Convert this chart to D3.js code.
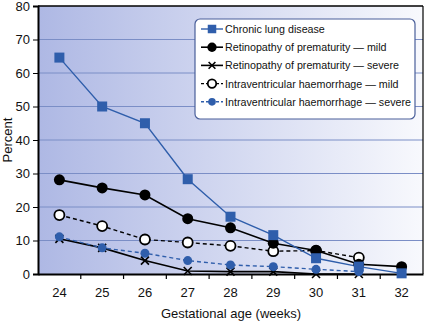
<!DOCTYPE html>
<html><head><meta charset="utf-8">
<script src="https://cdn.jsdelivr.net/npm/d3@7"></script>
<style>body{margin:0;background:#fff}svg{display:block;font-family:"Liberation Sans",Arial,sans-serif}</style>
</head><body><svg id="c" width="425" height="323"></svg>
<script>
const weeks = ["24","25","26","27","28","29","30","31","32"];
const yTicks = [0,10,20,30,40,50,60,70,80];
const chronicLung = [64.6,50,45,28.3,17.1,11.6,4.7,2.2,0.2];
const ropMild = [28.1,25.7,23.6,16.5,13.8,9.2,7.0,2.9,2.2];
const ropSevere = [10.5,7.8,4.0,0.9,0.7,0.7,0,0,null];
const ivhMild = [17.6,14.3,10.3,9.4,8.4,6.8,7.0,4.9,null];
const ivhSevere = [11.1,7.8,6.2,4.0,2.7,2.2,1.4,0.7,null];
const seriesNames = ["Chronic lung disease","Retinopathy of prematurity \u2014 mild","Retinopathy of prematurity \u2014 severe","Intraventricular haemorrhage \u2014 mild","Intraventricular haemorrhage \u2014 severe"];

const blue = "#2f5eab";
const series = [
  {name:seriesNames[0], values:chronicLung, color:blue, dash:null, marker:"square", w:1.4},
  {name:seriesNames[1], values:ropMild, color:"#000", dash:null, marker:"dot", w:1.6},
  {name:seriesNames[2], values:ropSevere, color:"#000", dash:null, marker:"x", w:1.6},
  {name:seriesNames[3], values:ivhMild, color:"#000", dash:"4,3", marker:"open", w:1.4},
  {name:seriesNames[4], values:ivhSevere, color:blue, dash:"4,3", marker:"bdot", w:1.4}
];

const svg = d3.select("#c");
const L=38, R=423, T=6, B=274;
const x = d3.scaleBand().domain(weeks).range([L,R]);
const y = d3.scaleLinear().domain([0,80]).range([B,T]);

const defs = svg.append("defs");
const g = defs.append("linearGradient").attr("id","bg").attr("x1","0").attr("x2","1").attr("y1","0").attr("y2","0");
g.append("stop").attr("offset","0").attr("stop-color","#aeb8e4");
g.append("stop").attr("offset","1").attr("stop-color","#f8f9fd");

svg.append("rect").attr("x",L).attr("y",T).attr("width",R-L).attr("height",B-T).attr("fill","url(#bg)");

// gridlines
svg.append("g").selectAll("line").data(yTicks.filter(d=>d>0&&d<80)).join("line")
  .attr("x1",L).attr("x2",R).attr("y1",d=>y(d)).attr("y2",d=>y(d))
  .attr("stroke","#7b8ec6").attr("stroke-width",1);

// frame top/right
svg.append("line").attr("x1",L).attr("x2",R).attr("y1",T).attr("y2",T).attr("stroke","#000").attr("stroke-width",1.5);
svg.append("line").attr("x1",R).attr("x2",R).attr("y1",T).attr("y2",B).attr("stroke","#000").attr("stroke-width",1.2);

// y axis
const ya = svg.append("g").attr("transform",`translate(${L},0)`)
  .call(d3.axisLeft(y).tickValues(yTicks).tickSize(5).tickPadding(3));
ya.select(".domain").attr("stroke-width",2);
ya.selectAll("text").attr("font-size",13).attr("fill","#111").attr("font-family","Liberation Sans, Arial, sans-serif");

// x axis
const xa = svg.append("g").attr("transform",`translate(0,${B})`)
  .call(d3.axisBottom(x).tickSize(0).tickPadding(14));
xa.select(".domain").attr("stroke-width",2);
xa.selectAll("text").attr("font-size",13).attr("fill","#111").attr("font-family","Liberation Sans, Arial, sans-serif");
svg.append("g").selectAll("line").data(weeks.slice(1)).join("line")
  .attr("x1",d=>x(d)).attr("x2",d=>x(d)).attr("y1",B).attr("y2",B+5).attr("stroke","#000").attr("stroke-width",1.2);

svg.append("text").attr("x",231).attr("y",318).attr("text-anchor","middle").attr("font-size",13).attr("fill","#111").text("Gestational age (weeks)");
svg.append("text").attr("transform","translate(12,140) rotate(-90)").attr("text-anchor","middle").attr("font-size",13).attr("fill","#111").text("Percent");

const cx = d => x(d)+x.bandwidth()/2;

function drawMarker(sel, type, color, k){
  k = k || 1;
  sel.each(function(){
    const s = d3.select(this);
    if(type==="square") s.append("rect").attr("x",-5*k).attr("y",-5*k).attr("width",10*k).attr("height",10*k).attr("fill",color);
    else if(type==="dot") s.append("circle").attr("r",5.5*k).attr("fill","#000");
    else if(type==="open") s.append("circle").attr("r",5*k).attr("fill","#fff").attr("stroke","#000").attr("stroke-width",1.8);
    else if(type==="bdot") s.append("circle").attr("r",4.5*k).attr("fill",color);
    else if(type==="x"){ const a=4*k; s.append("path").attr("d",`M${-a},${-a}L${a},${a}M${-a},${a}L${a},${-a}`).attr("stroke","#000").attr("stroke-width",1.6); }
  });
}

const line = d3.line().defined(d=>d.v!=null).x(d=>cx(d.k)).y(d=>y(d.v));
const order = [2,4,3,1,0];
order.forEach(i=>{
  const s = series[i];
  const pts = weeks.map((k,j)=>({k, v:s.values[j]}));
  svg.append("path").datum(pts).attr("d",line).attr("fill","none")
    .attr("stroke",s.color).attr("stroke-width",s.w).attr("stroke-dasharray",s.dash);
});
order.forEach(i=>{
  const s = series[i];
  const pts = weeks.map((k,j)=>({k, v:s.values[j]})).filter(d=>d.v!=null);
  svg.append("g").selectAll("g").data(pts).join("g")
    .attr("transform",d=>`translate(${cx(d.k)},${y(d.v)})`)
    .call(sel=>drawMarker(sel,s.marker,s.color));
});

// legend
const lg = svg.append("g");
lg.append("rect").attr("x",195).attr("y",19).attr("width",220).attr("height",100).attr("rx",5)
  .attr("fill","#fff").attr("stroke","#4a5f9a").attr("stroke-width",1.2);
series.forEach((s,i)=>{
  const yy = 29 + i*18.2;
  const r = lg.append("g").attr("transform",`translate(0,${yy})`);
  r.append("line").attr("x1",201).attr("x2",223).attr("y1",0).attr("y2",0)
    .attr("stroke",s.color).attr("stroke-width",s.w).attr("stroke-dasharray",s.dash?"3,2":null);
  r.append("g").attr("transform","translate(212,0)").call(sel=>drawMarker(sel,s.marker,s.color,0.85));
  r.append("text").attr("x",225).attr("y",4).attr("font-size",10.7).attr("fill","#111").text(s.name);
});
</script></body></html>
